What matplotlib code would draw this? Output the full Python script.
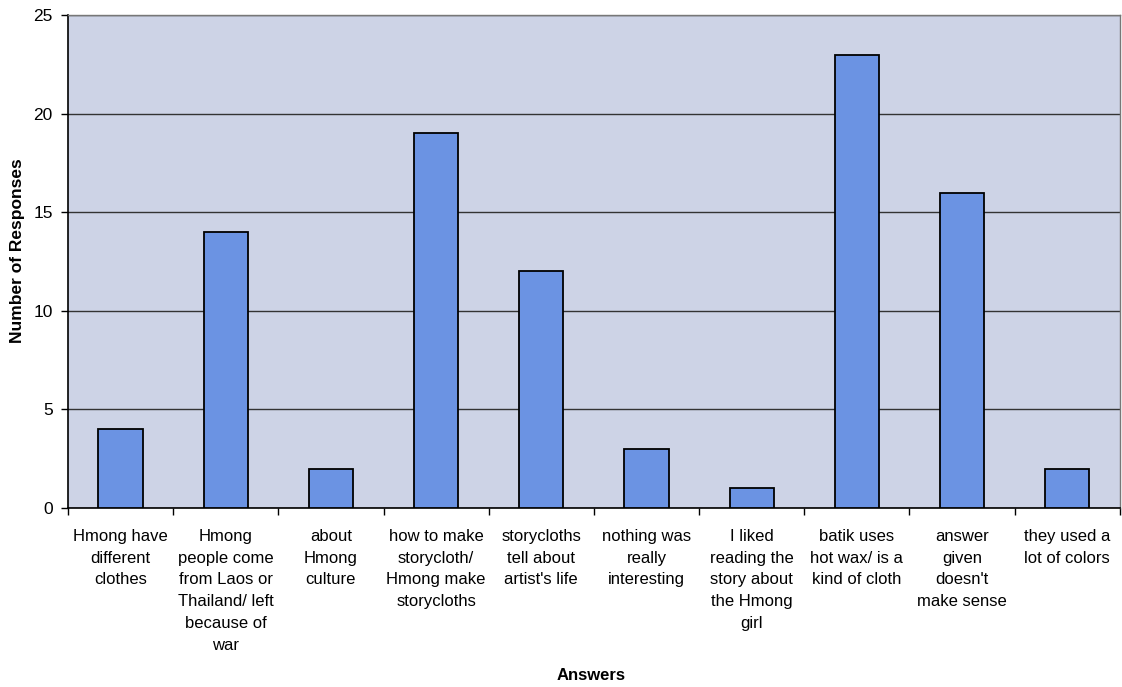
import matplotlib
matplotlib.use("Agg")
import matplotlib.pyplot as plt

plt.rcParams['font.family'] = ['Liberation Sans', 'DejaVu Sans']

# answers and counts
answers = [
    "Hmong have\ndifferent\nclothes",
    "Hmong\npeople come\nfrom Laos or\nThailand/ left\nbecause of\nwar",
    "about\nHmong\nculture",
    "how to make\nstorycloth/\nHmong make\nstorycloths",
    "storycloths\ntell about\nartist's life",
    "nothing was\nreally\ninteresting",
    "I liked\nreading the\nstory about\nthe Hmong\ngirl",
    "batik uses\nhot wax/ is a\nkind of cloth",
    "answer\ngiven\ndoesn't\nmake sense",
    "they used a\nlot of colors",
]
responses = [4, 14, 2, 19, 12, 3, 1, 23, 16, 2]

fig = plt.figure(figsize=(11.22, 6.87), dpi=100)
ax = fig.add_axes([0.0606, 0.2606, 0.9374, 0.7174])
ax.set_facecolor('#cdd3e6')

x = list(range(len(answers)))
ax.bar(x, responses, width=0.42, color='#6b93e3', edgecolor='black', linewidth=1.3, zorder=3)

ax.set_xlim(-0.5, len(answers) - 0.5)
ax.set_ylim(0, 25)
ax.set_yticks(range(0, 26, 5))
ax.yaxis.grid(True, color='#333333', linewidth=1.0, zorder=0)

# category labels centred between boundary ticks
ax.set_xticks([i + 0.5 for i in x[:-1]] + [-0.5, len(answers) - 0.5])
ax.set_xticklabels([])
ax.set_xticks(x, minor=True)
ax.set_xticklabels(answers, minor=True, fontsize=12, linespacing=1.57, va='top')
ax.tick_params(axis='x', which='minor', length=0, pad=15)
ax.tick_params(axis='x', which='major', length=5, width=1, direction='out')
ax.tick_params(axis='y', length=5, width=1, direction='out', labelsize=12.5, pad=6)

for side in ['left', 'bottom']:
    ax.spines[side].set_color('black')
    ax.spines[side].set_linewidth(1.2)
for side in ['top', 'right']:
    ax.spines[side].set_color('#777777')
    ax.spines[side].set_linewidth(1.0)

fig.text(0.016, 0.635, "Number of Responses", rotation=90, fontsize=12.5,
         fontweight='bold', ha='center', va='center')
fig.text(0.527, 0.006, "Answers", fontsize=12, fontweight='bold',
         ha='center', va='bottom')

fig.savefig("out.png", dpi=100)
